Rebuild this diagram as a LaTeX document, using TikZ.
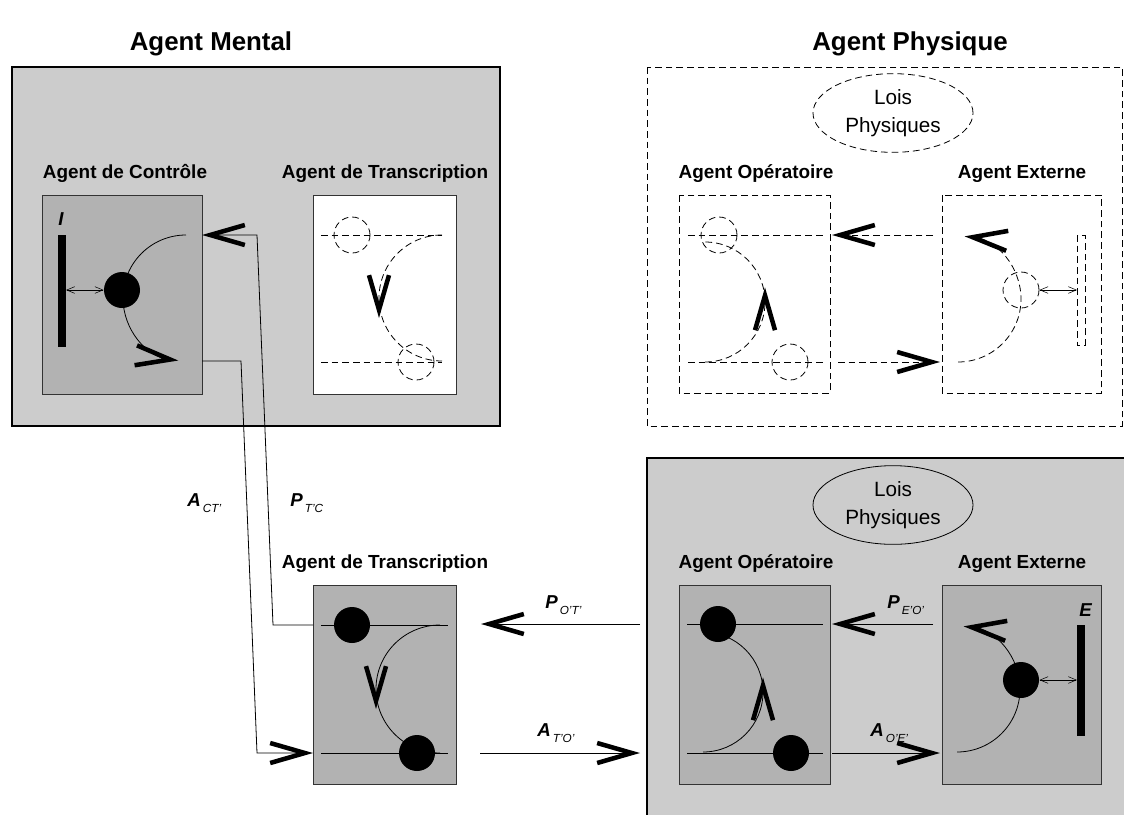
\documentclass[tikz,border=0pt]{standalone}
\usepackage{fontspec}
\setmainfont{Liberation Sans}
\usetikzlibrary{arrows.meta,decorations.markings,shapes.geometric}

\definecolor{grisclair}{gray}{0.8}
\definecolor{grisfonce}{gray}{0.7}

\newcommand{\etiq}[2]{{\fontsize{14}{14}\selectfont\bfseries\itshape #1}\hspace{1.5pt}\raisebox{-5pt}{\fontsize{8.8}{9}\selectfont\itshape #2}}

\tikzset{
  chev/.tip={Straight Barb[length=26pt,width=15pt,line width=3.4pt]},
  fine/.tip={Straight Barb[length=6pt,width=5pt,line width=0.4pt]},
  grandboite/.style={draw, line width=1pt, fill=grisclair},
  boite/.style={draw=black!80, line width=0.6pt, fill=grisfonce},
  tirets/.style={dash pattern=on 5pt off 3pt},
  titre/.style={anchor=base, font=\fontsize{19.4}{22}\selectfont\bfseries},
  nomagent/.style={anchor=base, font=\fontsize{14.2}{16}\selectfont\bfseries},
  etiquette/.style={anchor=base west, inner sep=0pt},
  bille/.style={circle, fill=black, minimum size=27pt, inner sep=0pt},
  bulle/.style={circle, draw, tirets, minimum size=27pt, inner sep=0pt},
  lois/.style={ellipse, draw, minimum width=120pt, minimum height=59pt, inner sep=0pt,
    align=center, font=\fontsize{15.5}{21}\selectfont},
  flechemilieu/.style={postaction={decorate, decoration={markings,
    mark=at position 0.5 with {\arrow[xshift=#1]{chev}}}}},
}

\begin{document}
\begin{tikzpicture}[x=0.75pt,y=-0.75pt,line width=0.6pt]
\useasboundingbox (0,0) rectangle (1124,814);
\clip (0,0) rectangle (1124,814);

\node[titre] (tmental) at (211,50) {Agent Mental};
\node[titre] (tphys) at (910,50) {Agent Physique};

% agent mental
\draw[grandboite] (12,67) rectangle (500,426);
\node[nomagent] (nctrl) at (125,178) {Agent de Contrôle};
\node[nomagent] (ntrans) at (385,178) {Agent de Transcription};
\draw[boite] (42,195) rectangle (202,394);
\draw[draw=black!80, fill=white] (313,195) rectangle (456,394);
\coordinate (cin) at (202,235);
\coordinate (cout) at (202,361);

\fill (58,235) rectangle (66,347);
\node[etiquette, font=\fontsize{14}{14}\selectfont\bfseries\itshape] (lI) at (58,225) {I};
\node[bille] (bc) at (122,290) {};
\coordinate (barI) at (66,290);
\draw[fine-fine] (barI) -- (bc);
\draw[-chev] (186,235) arc[start angle=270, end angle=97, radius=63];

\draw[tirets] (321,235) -- (442,235);
\draw[tirets] (321,362) -- (442,362);
\node[bulle] (th1) at (352,235) {};
\node[bulle] (th2) at (416,362) {};
\draw[tirets, flechemilieu=15pt] (442,235) arc[start angle=270, end angle=90, radius=63];

% agent de transcription
\node[nomagent] (ntrans2) at (385,568) {Agent de Transcription};
\draw[boite] (313,585) rectangle (456,784);
\coordinate (tin) at (313,753);
\coordinate (tout) at (313,625);
\draw (321,625) -- (448,625);
\draw (321,753) -- (448,753);
\draw[flechemilieu=15pt] (440,625) arc[start angle=270, end angle=90, radius=64];
\node[bille] (tb1) at (352,625) {};
\node[bille] (tb2) at (417,753) {};

\draw[-chev] (tout) -- (273,625) -- (257,235) -- (cin);
\draw[-chev] (cout) -- (241,361) -- (257,753) -- (tin);
\node[etiquette] (aCT) at (187,506) {\etiq{A}{CT'}};
\node[etiquette] (pTC) at (290,506) {\etiq{P}{T'C}};

% agent physique
\draw[tirets] (647,67) rectangle (1122,426);
\node[lois, tirets] (lois1) at (893,113) {Lois\\Physiques};
\node[nomagent] (nop1) at (756,178) {Agent Opératoire};
\node[nomagent] (next1) at (1022,178) {Agent Externe};
\draw[tirets] (679,195) rectangle (830,393);
\draw[tirets] (942,195) rectangle (1101,393);
\coordinate (oe1) at (832,235);
\coordinate (oe2) at (832,362);
\coordinate (ew1) at (940,362);
\coordinate (ew2) at (933,235);

\draw[tirets] (688,235) -- (823,235);
\draw[tirets] (688,362) -- (823,362);
\node[bulle] (oh1) at (719,235) {};
\node[bulle] (oh2) at (790,362) {};
\draw[tirets, flechemilieu=11pt] (705,362) arc[start angle=90, end angle=-90, radius=60];

\draw[tirets, -chev] (958,362) arc[start angle=90, end angle=-84, radius=63];
\node[bulle] (eh) at (1021,290) {};
\draw[tirets] (1077,235) rectangle (1085,345);
\coordinate (barEh) at (1077,290);
\draw[fine-fine] (eh) -- (barEh);

\draw[tirets, -chev] (ew2) -- (oe1);
\draw[tirets, -chev] (838,362) -- (ew1);

% monde reel
\draw[grandboite] (647,458) rectangle (1130,820);
\node[lois] (lois2) at (893,505) {Lois\\Physiques};
\node[nomagent] (nop2) at (756,568) {Agent Opératoire};
\node[nomagent] (next2) at (1022,568) {Agent Externe};
\draw[boite] (679,585) rectangle (830,784);
\draw[boite] (942,585) rectangle (1101,784);
\coordinate (ow1) at (640,624);
\coordinate (ow2) at (640,753);
\coordinate (oe3) at (832,624);
\coordinate (oe4) at (832,753);
\coordinate (ew3) at (933,624);
\coordinate (ew4) at (940,753);

\draw (687,624) -- (823,624);
\draw (687,753) -- (823,753);
\draw[flechemilieu=11pt] (703,752) arc[start angle=90, end angle=-90, radius=60];
\node[bille] (ob1) at (718,624) {};
\node[bille] (ob2) at (791,753) {};

\draw[-chev] (957,752) arc[start angle=90, end angle=-84, radius=63];
\node[bille] (eb) at (1021,680) {};
\fill (1077,625) rectangle (1085,736);
\node[etiquette, font=\fontsize{14}{14}\selectfont\bfseries\itshape] (lE) at (1079,616) {E};
\coordinate (barE) at (1077,680);
\draw[fine-fine] (eb) -- (barE);

\coordinate (tw1) at (481,624);
\coordinate (tw2) at (480,753);
\draw[-chev] (ow1) -- (tw1);
\draw[-chev] (tw2) -- (ow2);
\draw[-chev] (ew3) -- (oe3);
\draw[-chev] (oe4) -- (ew4);
\node[etiquette] (pOT) at (545,608) {\etiq{P}{O'T'}};
\node[etiquette] (aTO) at (537,736) {\etiq{A}{T'O'}};
\node[etiquette] (pEO) at (887,608) {\etiq{P}{E'O'}};
\node[etiquette] (aOE) at (870,736) {\etiq{A}{O'E'}};
\end{tikzpicture}
\end{document}
